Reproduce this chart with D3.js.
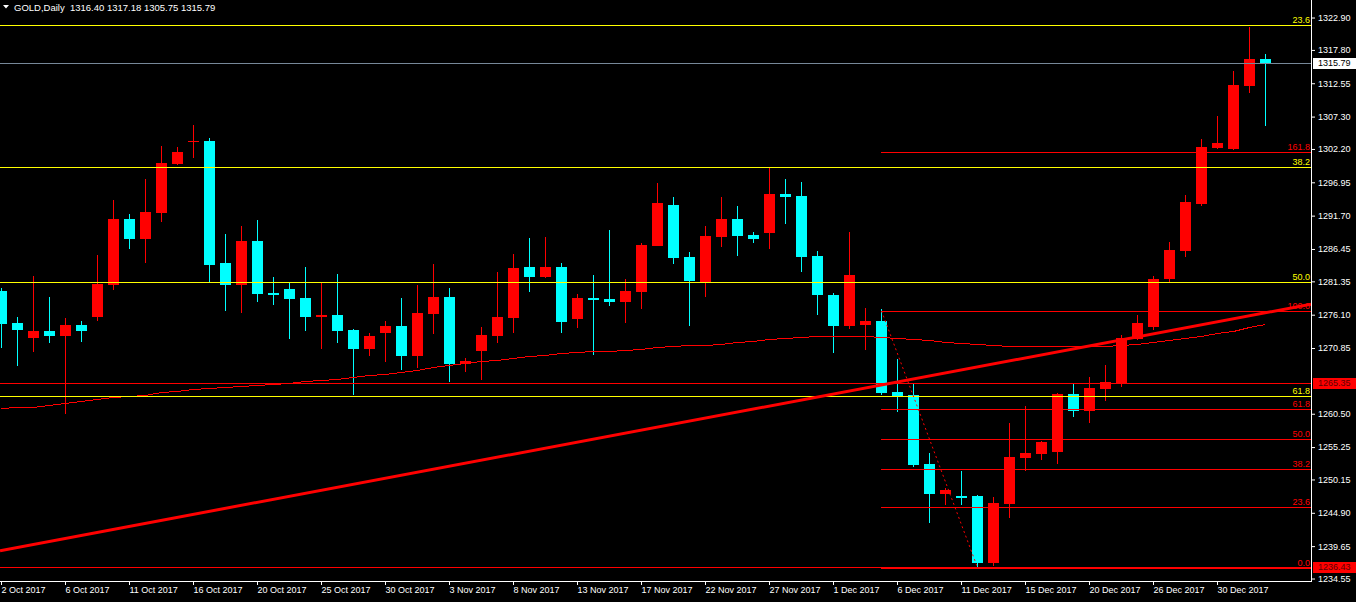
<!DOCTYPE html>
<html><head><meta charset="utf-8">
<script src="https://cdn.jsdelivr.net/npm/d3@7"></script>
<style>
html,body{margin:0;padding:0;background:#000;}
svg{display:block;}
text{font-family:"Liberation Sans",Arial,sans-serif;font-size:9px;}
</style></head><body>
<svg id="chart" width="1356" height="602"></svg>
<script>
// ---------- DATA ----------
const symbolName = "GOLD,Daily";
const lastBarOHLC = [1316.40, 1317.18, 1305.75, 1315.79];

const dateLabels = ["2 Oct 2017","6 Oct 2017","11 Oct 2017","16 Oct 2017","20 Oct 2017","25 Oct 2017","30 Oct 2017","3 Nov 2017","8 Nov 2017","13 Nov 2017","17 Nov 2017","22 Nov 2017","27 Nov 2017","1 Dec 2017","6 Dec 2017","11 Dec 2017","15 Dec 2017","20 Dec 2017","26 Dec 2017","30 Dec 2017"];
const dateLabelBars = [0,4,8,12,16,20,24,28,32,36,40,44,48,52,56,60,64,68,72,76];

const openP = [1279.83,1274.79,1272.48,1273.53,1272.79,1274.48,1275.74,1280.78,1291.17,1288.07,
1292.12,1299.88,1303.35,1303.46,1284.20,1280.83,1287.71,1279.57,1280.15,1278.73,
1275.79,1276.05,1273.69,1270.75,1273.27,1274.32,1269.64,1276.26,1278.89,1268.38,
1270.39,1272.79,1275.63,1283.61,1282.09,1283.61,1275.47,1278.73,1278.57,1278.15,
1279.72,1286.97,1293.38,1285.19,1281.30,1288.38,1291.17,1288.65,1289.01,1295.11,
1294.79,1285.35,1279.20,1274.37,1274.53,1275.11,1263.93,1263.46,1252.59,1247.86,
1247.55,1247.55,1237.00,1246.29,1253.53,1254.16,1254.48,1263.61,1260.94,1264.40,
1265.19,1272.27,1274.16,1281.72,1286.18,1293.58,1302.35,1302.20,1312.16,1316.40];
const highP = [1280.31,1275.74,1282.24,1278.89,1275.58,1275.11,1285.50,1294.16,1291.96,1297.47,
1302.67,1302.51,1305.97,1303.93,1288.81,1290.07,1291.01,1282.04,1281.14,1283.61,
1281.14,1282.51,1273.85,1273.22,1275.11,1278.73,1280.78,1284.09,1280.31,1269.28,
1274.16,1282.83,1285.66,1288.18,1288.34,1284.24,1279.36,1282.35,1289.44,1281.72,
1287.39,1296.84,1294.64,1285.98,1290.07,1294.64,1293.22,1289.12,1299.31,1297.47,
1297.00,1286.13,1279.52,1289.12,1277.16,1277.00,1269.12,1265.19,1254.32,1248.81,
1251.49,1247.71,1247.39,1259.05,1261.72,1256.21,1263.70,1265.19,1266.29,1268.18,
1272.90,1276.05,1282.20,1287.55,1294.95,1303.77,1307.39,1314.48,1321.41,1317.18];
const lowP = [1270.90,1268.07,1270.27,1271.69,1260.51,1271.85,1275.11,1280.04,1286.49,1284.29,
1290.75,1299.72,1300.83,1281.25,1276.73,1276.42,1278.15,1277.68,1272.32,1273.58,
1270.75,1271.69,1263.50,1269.64,1268.70,1267.39,1267.66,1273.11,1265.55,1267.12,
1265.86,1271.69,1273.27,1279.72,1281.93,1273.27,1274.05,1269.80,1277.52,1274.84,
1277.05,1286.90,1284.13,1274.37,1278.94,1286.81,1285.39,1287.44,1286.49,1290.43,
1282.87,1276.10,1270.12,1273.90,1270.59,1263.46,1260.78,1252.12,1243.30,1246.13,
1246.13,1236.43,1236.60,1244.09,1251.49,1253.22,1252.59,1259.99,1259.05,1262.51,
1264.72,1272.12,1273.69,1281.25,1285.19,1293.27,1302.20,1302.10,1311.06,1305.75];
const closeP = [1274.68,1273.74,1273.53,1272.79,1274.48,1273.58,1280.98,1291.17,1288.07,1292.27,
1299.99,1301.72,1303.41,1283.93,1280.83,1287.71,1279.41,1279.20,1278.57,1275.79,
1276.05,1273.58,1270.75,1272.75,1274.32,1269.64,1276.37,1278.89,1268.34,1268.81,
1272.90,1275.74,1283.46,1282.09,1283.61,1275.00,1278.73,1278.46,1278.15,1279.83,
1287.08,1293.69,1285.08,1281.46,1288.49,1291.17,1288.54,1288.07,1295.11,1294.68,
1285.24,1279.25,1274.37,1282.35,1275.11,1263.77,1263.30,1252.43,1247.86,1248.49,
1247.23,1237.00,1246.45,1253.69,1254.32,1256.05,1263.61,1260.94,1264.56,1265.50,
1272.43,1274.79,1281.72,1286.29,1293.85,1302.51,1303.14,1312.27,1316.37,1315.79];

const maValues = [1261.36,1261.49,1261.64,1261.88,1262.12,1262.43,1262.75,1263.06,1263.30,1263.53,
1263.85,1264.09,1264.40,1264.56,1264.64,1264.87,1264.95,1265.19,1265.35,1265.58,
1265.82,1266.05,1266.29,1266.53,1266.76,1267.08,1267.39,1267.86,1268.13,1268.49,
1268.76,1268.97,1269.28,1269.55,1269.71,1270.02,1270.18,1270.34,1270.34,1270.54,
1270.75,1271.01,1271.12,1271.28,1271.33,1271.53,1271.75,1272.01,1272.23,1272.39,
1272.59,1272.70,1272.70,1272.70,1272.70,1272.54,1272.39,1272.23,1272.04,1271.80,
1271.64,1271.49,1271.28,1271.20,1271.12,1271.12,1271.12,1271.12,1271.12,1271.12,
1271.28,1271.53,1271.80,1272.12,1272.43,1272.75,1273.14,1273.61,1274.09,1274.64];

const priceTicks = [1322.90,1317.80,1312.55,1307.30,1302.20,1296.95,1291.70,1286.45,1281.35,1276.10,1270.85,1260.50,1255.25,1250.15,1244.90,1239.65,1234.55];

const yellowFibLabels = ["23.6","38.2","50.0","61.8"];
const yellowFibPrices = [1321.72,1299.36,1281.30,1263.25];

const redFibLevels = [0,23.6,38.2,50,61.8,100,161.8];
const redFibLabels = ["0.0","23.6","38.2","50.0","61.8","100.0","161.8"];
const redFibBars = [55,61];
const redFibPrices = [1276.70,1236.28];

const hLinePrices = [1265.35,1236.43];
const trendBars = [0,79];
const trendPrices = [1238.96,1276.39];

// ---------- LAYOUT ----------
const W = 1356, H = 602, plotW = 1311, plotH = 581;
const svg = d3.select("#chart");
svg.append("rect").attr("width",W).attr("height",H).attr("fill","#000");

const x = d3.scaleLinear().domain([0,79]).range([1,1265]);
const y = d3.scaleLinear().domain([1234.16,1325.66]).range([plotH,0]);

svg.append("clipPath").attr("id","plotclip").append("rect").attr("width",plotW).attr("height",plotH);
const plot = svg.append("g").attr("clip-path","url(#plotclip)").attr("shape-rendering","crispEdges");

const CYAN = "#00ffff", RED = "#ff0000", YEL = "#ffff00";
const bars = d3.range(openP.length).map(i => ({i, o:openP[i], h:highP[i], l:lowP[i], c:closeP[i]}));

// candles
const cg = plot.append("g");
bars.forEach(b => {
  const col = b.c > b.o ? RED : CYAN;
  const xc = Math.round(x(b.i));
  const yh = Math.round(y(b.h)), yl = Math.round(y(b.l));
  cg.append("rect").attr("x",xc).attr("y",yh).attr("width",1).attr("height",Math.max(1,yl-yh)).attr("fill",col);
  const yt = Math.round(y(Math.max(b.o,b.c))), yb = Math.round(y(Math.min(b.o,b.c)));
  cg.append("rect").attr("x",xc-5).attr("y",yt).attr("width",11).attr("height",Math.max(1,yb-yt)).attr("fill",col);
});

// moving average
plot.append("path").datum(maValues)
  .attr("d", d3.line().x((d,i)=>x(i)+0.5).y(d=>Math.round(y(d))+0.5))
  .attr("fill","none").attr("stroke",RED).attr("stroke-width",1);

// horizontal price lines
function hline(p, col, x0) {
  const yy = Math.round(y(p));
  plot.append("rect").attr("x",x0).attr("y",yy).attr("width",plotW-x0).attr("height",1).attr("fill",col);
}
hline(lastBarOHLC[3], "#778899", 0);
yellowFibPrices.forEach(p => hline(p, YEL, 0));
hLinePrices.forEach(p => hline(p, RED, 0));

// red fibonacci
const fibRange = redFibPrices[0] - redFibPrices[1];
const fibX0 = Math.round(x(redFibBars[0]));
redFibLevels.forEach(l => hline(redFibPrices[1] + l/100*fibRange, RED, fibX0));
plot.append("line")
  .attr("x1",x(redFibBars[0])+0.5).attr("y1",y(redFibPrices[0]))
  .attr("x2",x(redFibBars[1])+0.5).attr("y2",y(redFibPrices[1]))
  .attr("stroke",RED).attr("stroke-width",1).attr("stroke-dasharray","2,3")
  .attr("shape-rendering","auto");

// level labels
const lbl = svg.append("g");
yellowFibLabels.forEach((t,k) => {
  lbl.append("text").attr("x",1310).attr("y",Math.round(y(yellowFibPrices[k]))-2)
    .attr("text-anchor","end").attr("fill",YEL).text(t);
});
redFibLabels.forEach((t,k) => {
  lbl.append("text").attr("x",1310).attr("y",Math.round(y(redFibPrices[1] + redFibLevels[k]/100*fibRange))-2)
    .attr("text-anchor","end").attr("fill",RED).text(t);
});

// trend line (ray)
const slope = (trendPrices[1]-trendPrices[0])/(trendBars[1]-trendBars[0]);
const barAtX = v => x.invert(v);
svg.append("g").attr("clip-path","url(#plotclip)").append("line")
  .attr("x1",0).attr("y1",y(trendPrices[0] + slope*(barAtX(0)-trendBars[0])))
  .attr("x2",plotW).attr("y2",y(trendPrices[0] + slope*(barAtX(plotW)-trendBars[0])))
  .attr("stroke",RED).attr("stroke-width",3);

// ---------- AXES ----------
const axW = "#ffffff";
const yAxis = svg.append("g").attr("transform",`translate(${plotW},0)`)
  .call(d3.axisRight(y).tickValues(priceTicks).tickFormat(d3.format(".2f")).tickSize(4).tickSizeOuter(0).tickPadding(3));
yAxis.select(".domain").remove();
yAxis.selectAll("line").attr("stroke",axW);
yAxis.selectAll("text").attr("fill",axW).style("font-family","'Liberation Sans',Arial,sans-serif").style("font-size","9px");

const xAxis = svg.append("g").attr("transform",`translate(0,${plotH})`)
  .call(d3.axisBottom(x).tickValues(dateLabelBars).tickFormat((d,i)=>dateLabels[i]).tickSize(4).tickSizeOuter(0));
xAxis.select(".domain").remove();
xAxis.selectAll("line").attr("stroke",axW);
xAxis.selectAll("text").attr("fill",axW).attr("text-anchor","start").attr("x",0).attr("y",6).attr("dy","0.71em")
  .style("font-family","'Liberation Sans',Arial,sans-serif").style("font-size","9px");

svg.append("rect").attr("x",plotW).attr("y",0).attr("width",1).attr("height",plotH+1).attr("fill",axW);
svg.append("rect").attr("x",0).attr("y",plotH).attr("width",plotW+1).attr("height",1).attr("fill",axW);

// price label boxes
function priceBox(p, bg, fg) {
  const yy = Math.round(y(p));
  svg.append("rect").attr("x",plotW+2).attr("y",yy-5).attr("width",W-plotW-2).attr("height",11).attr("fill",bg);
  svg.append("text").attr("x",plotW+7).attr("y",yy).attr("dy","0.34em").attr("fill",fg).text(d3.format(".2f")(p));
}
priceBox(lastBarOHLC[3], "#ffffff", "#000000");
hLinePrices.forEach(p => priceBox(p, RED, "#600000"));

// header
svg.append("path").attr("d","M3,5 L9,5 L6,8.5 Z").attr("fill","#ffffff");
svg.append("text").attr("x",14).attr("y",11).attr("fill","#ffffff").style("font-size","9.5px")
  .attr("xml:space","preserve").style("white-space","pre")
  .text(symbolName + "  " + lastBarOHLC.map(d3.format(".2f")).join(" "));
</script>
</body></html>
